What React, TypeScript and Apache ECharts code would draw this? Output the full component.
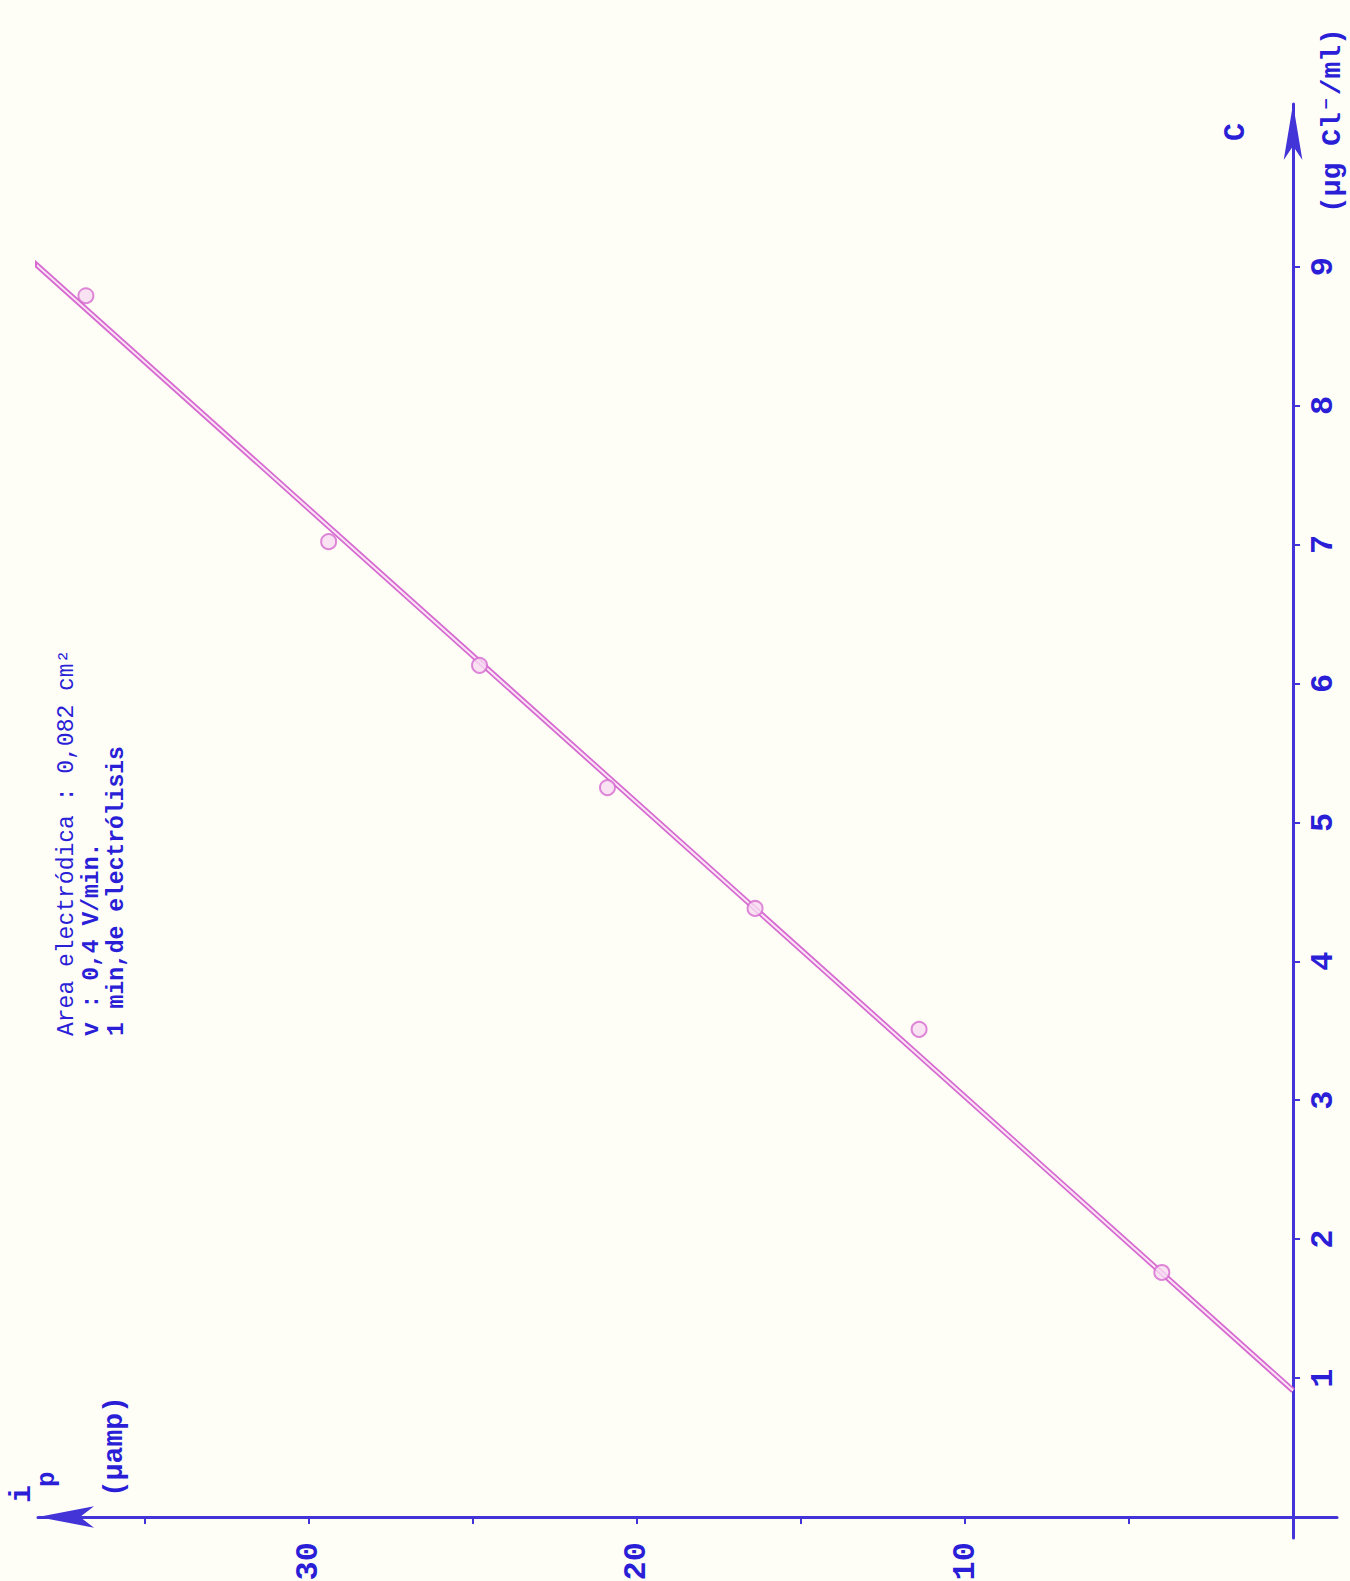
import React, { useEffect, useRef } from 'react';
import * as echarts from 'echarts';

// Measured points: peak current i_p (µA) vs concentration C (µg Cl⁻/ml)
const concentration = [8.79, 7.02, 6.13, 5.25, 4.38, 3.51, 1.76];
const peakCurrent = [36.8, 29.4, 24.8, 20.9, 16.4, 11.4, 4.0];
// Calibration line drawn through the points
const fitConcentration = [0.91, 9.17];
const fitCurrent = [0, 39.05];
// Axis ticks and labels
const currentTicks = [5, 10, 15, 20, 25, 30, 35];
const currentLabels = [10, 20, 30];
const concentrationTicks = [1, 2, 3, 4, 5, 6, 7, 8, 9];
const noteLines = ['Area electródica : 0,082 cm²', 'v : 0,4 V/min.', '1 min,de electrólisis'];

const BLUE = '#4334d8';
const TEXT = '#2a1fd6';
const PINK = '#d66ad0';
const FONT = '"Liberation Mono", "DejaVu Sans Mono", monospace';

export default function App() {
  const ref = useRef<HTMLDivElement>(null);
  useEffect(() => {
    if (!ref.current) return;
    const chart = echarts.init(ref.current, undefined, { renderer: 'svg' });
    const pts = peakCurrent.map((v, i) => [v, concentration[i]]);
    const fit = fitCurrent.map((v, i) => [v, fitConcentration[i]]);
    const rot = Math.PI / 2;
    const noteX = [67, 92, 117];
    const noteWeight = ['normal', 'bold', 'bold'];
    const option: any = {
      animation: false,
      backgroundColor: '#fffef6',
      grid: { left: 38, right: 13, top: 104, bottom: 43, containLabel: false, outerBoundsMode: 'none' },
      xAxis: {
        type: 'value',
        inverse: true,
        min: -1.34,
        max: 38.26,
        position: 'bottom',
        axisLine: {
          show: true,
          onZero: true,
          symbol: ['arrow', 'none'],
          symbolSize: [16, 56],
          lineStyle: { color: BLUE, width: 3 },
        },
        axisTick: { show: true, customValues: currentTicks, length: 7, lineStyle: { color: BLUE, width: 2 } },
        axisLabel: {
          customValues: currentLabels,
          rotate: 90,
          margin: 4,
          color: TEXT,
          fontSize: 32,
          fontWeight: 'bold',
          fontFamily: FONT,
        },
        splitLine: { show: false },
      },
      yAxis: {
        type: 'value',
        position: 'right',
        min: -0.151,
        max: 10.17,
        axisLine: {
          show: true,
          onZero: true,
          symbol: ['none', 'arrow'],
          symbolSize: [14, 56],
          lineStyle: { color: BLUE, width: 3 },
        },
        axisTick: { show: true, customValues: concentrationTicks, length: 7, lineStyle: { color: BLUE, width: 2 } },
        axisLabel: {
          customValues: concentrationTicks,
          rotate: 90,
          margin: -30,
          color: TEXT,
          fontSize: 32,
          fontWeight: 'bold',
          fontFamily: FONT,
        },
        splitLine: { show: false },
      },
      series: [
        {
          type: 'line',
          data: fit,
          symbol: 'none',
          clip: false,
          lineStyle: { color: PINK, width: 5.5 },
          z: 2,
        },
        {
          type: 'line',
          data: fit,
          symbol: 'none',
          clip: false,
          lineStyle: { color: '#fbe4f6', width: 2 },
          z: 3,
        },
        {
          type: 'scatter',
          data: pts,
          symbol: 'circle',
          symbolSize: 15,
          clip: false,
          itemStyle: { color: '#f8dcf3', borderColor: PINK, borderWidth: 2 },
          z: 4,
        },
      ],
      graphic: [
        {
          type: 'text', x: 22, y: 1503, rotation: rot,
          style: { text: 'i', font: `bold 30px ${FONT}`, fill: TEXT, textAlign: 'left', textVerticalAlign: 'middle' },
        },
        {
          type: 'text', x: 47, y: 1487, rotation: rot,
          style: { text: 'p', font: `bold 26px ${FONT}`, fill: TEXT, textAlign: 'left', textVerticalAlign: 'middle' },
        },
        {
          type: 'text', x: 114, y: 1497, rotation: rot,
          style: { text: '(µamp)', font: `bold 28px ${FONT}`, fill: TEXT, textAlign: 'left', textVerticalAlign: 'middle' },
        },
        ...noteLines.map((t, i) => ({
          type: 'text', x: noteX[i], y: 1036, rotation: rot,
          style: { text: t, font: `${noteWeight[i]} 23px ${FONT}`, fill: TEXT, textAlign: 'left', textVerticalAlign: 'middle' },
        })),
        {
          type: 'text', x: 1236, y: 132, rotation: rot,
          style: { text: 'C', font: `bold 30px ${FONT}`, fill: TEXT, textAlign: 'center', textVerticalAlign: 'middle' },
        },
        {
          type: 'text', x: 1332, y: 213, rotation: rot,
          style: { text: '(µg Cl⁻/ml)', font: `bold 28px ${FONT}`, fill: TEXT, textAlign: 'left', textVerticalAlign: 'middle' },
        },
      ],
    };
    chart.setOption(option);
    return () => chart.dispose();
  }, []);
  return (
    <div
      ref={ref}
      style={{ position: 'absolute', left: 0, top: 0, width: 1350, height: 1581 }}
    />
  );
}
